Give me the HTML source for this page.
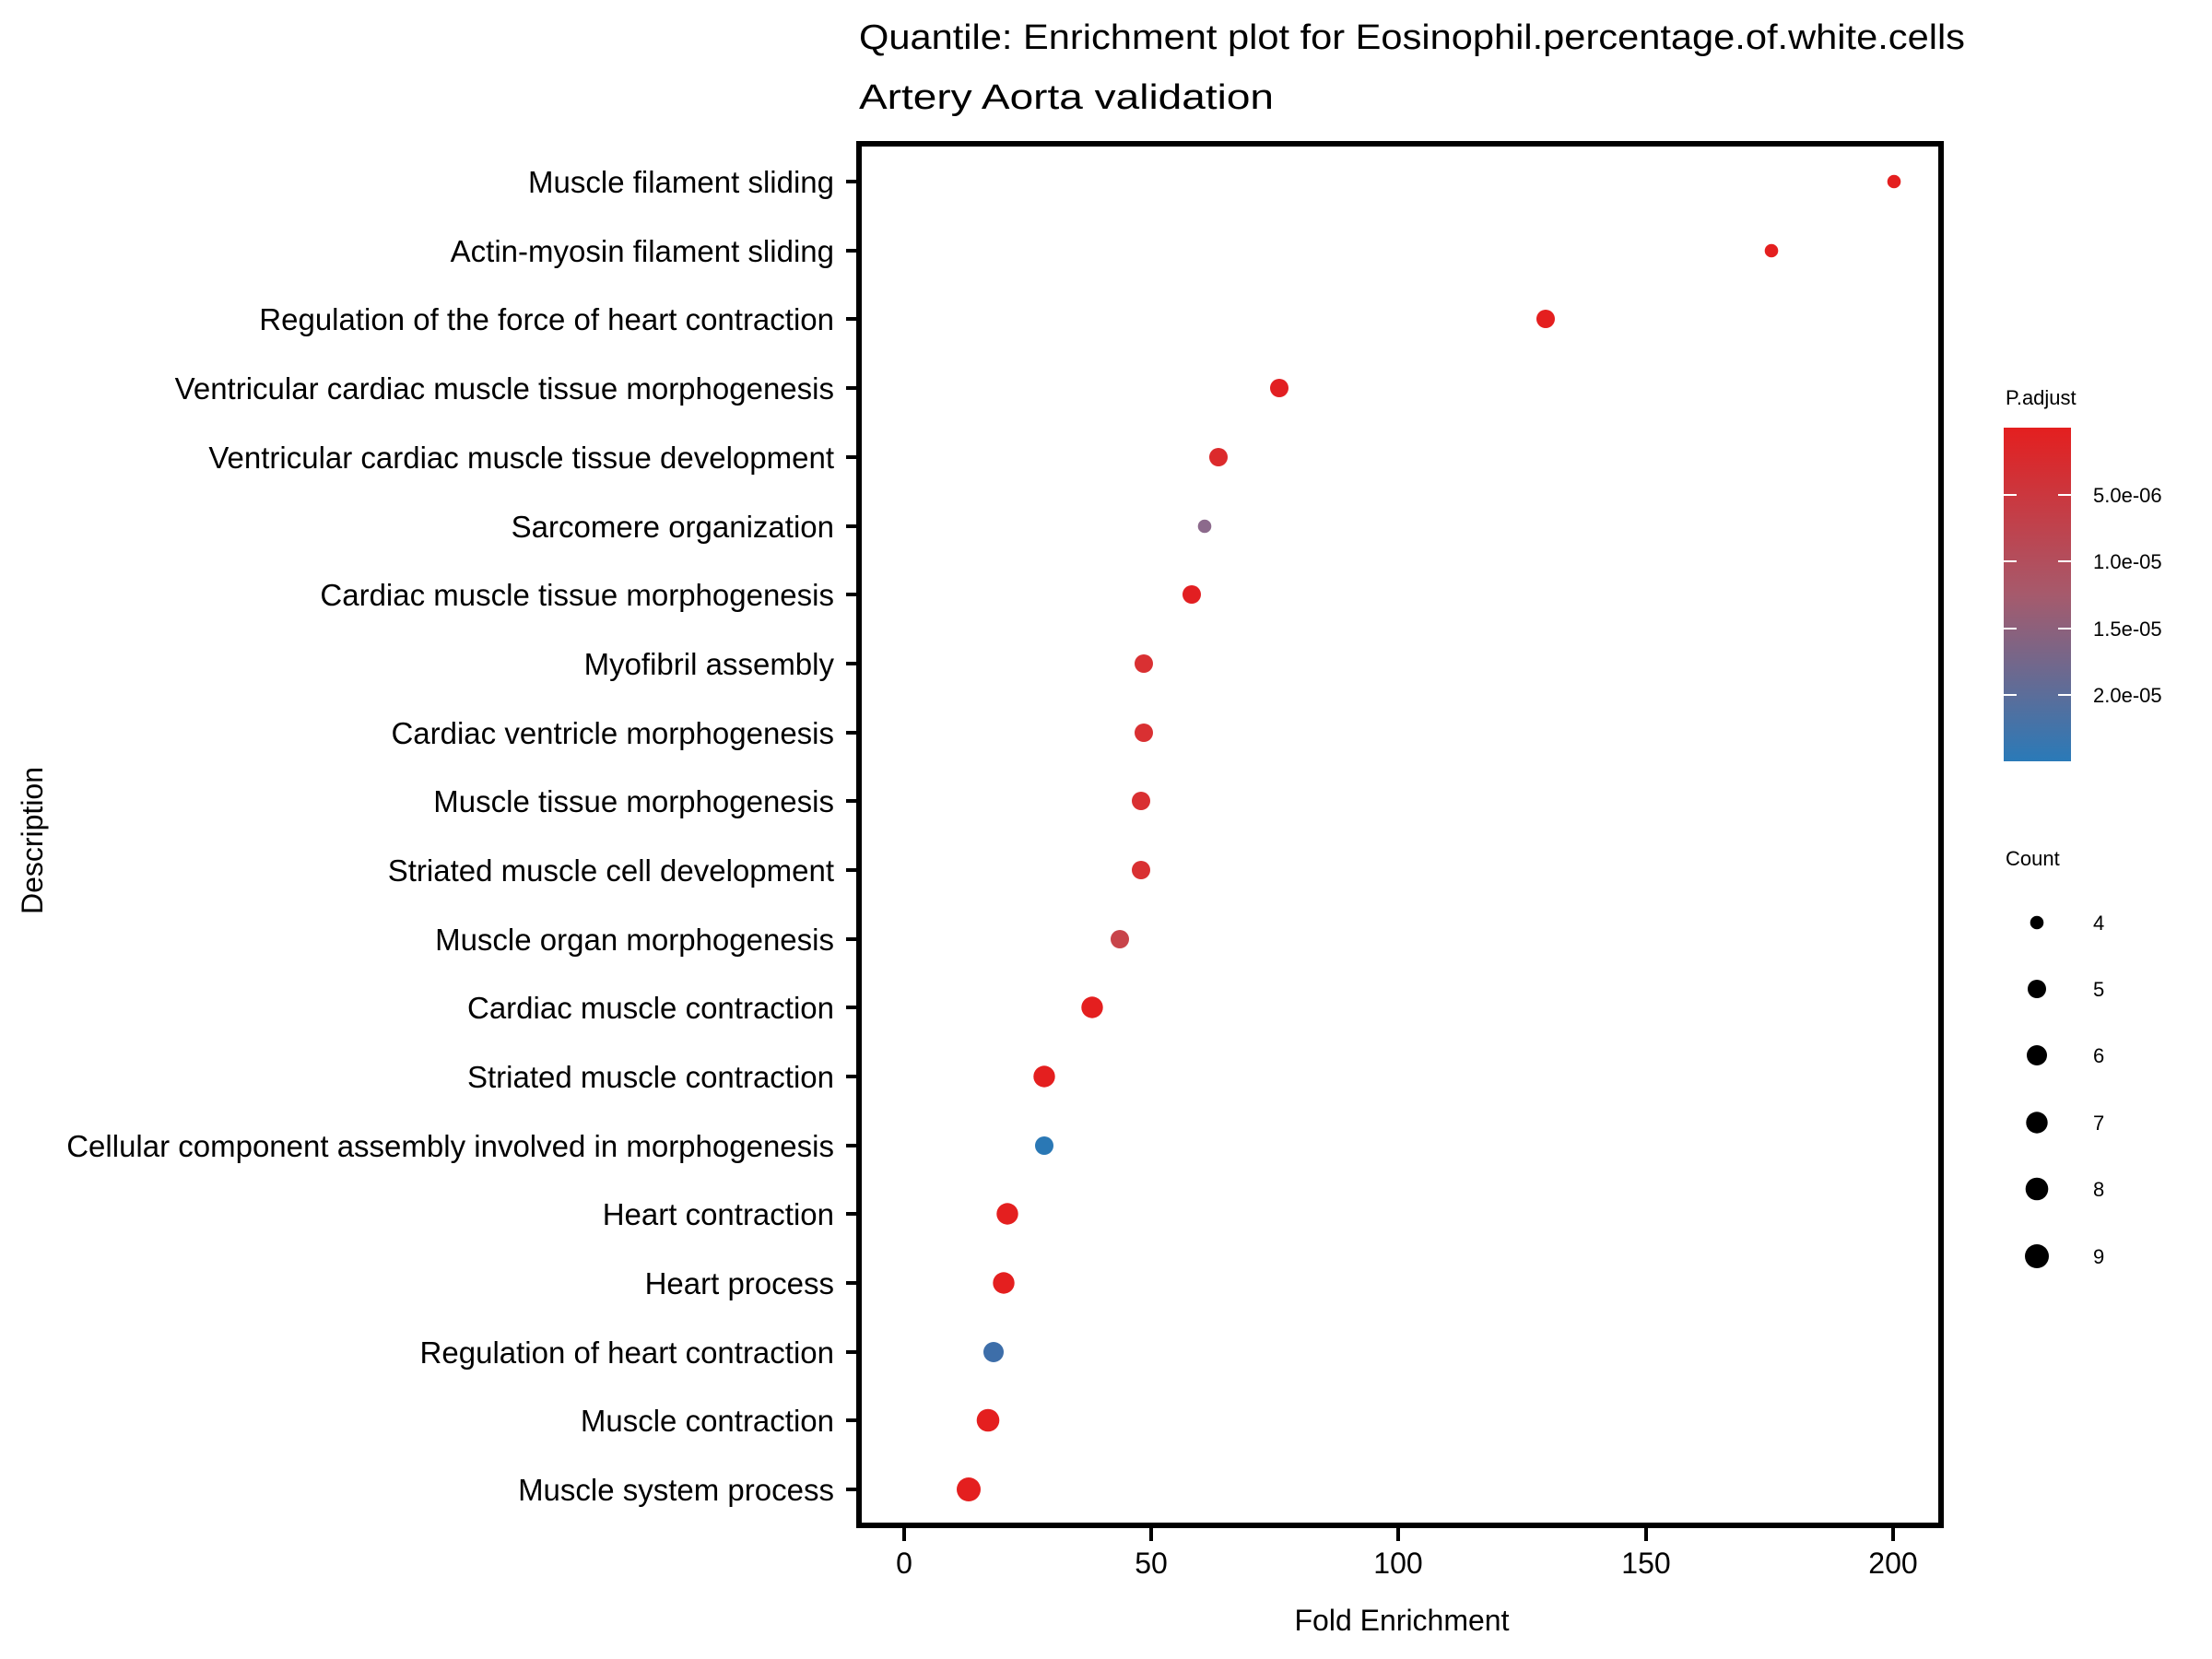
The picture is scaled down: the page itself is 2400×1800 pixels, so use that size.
<!DOCTYPE html>
<html><head><meta charset="utf-8"><style>body{margin:0;background:#fff}svg{display:block}text{font-family:"Liberation Sans",sans-serif;fill:#000}</style></head>
<body>
<svg width="2400" height="1800" viewBox="0 0 2400 1800" xmlns="http://www.w3.org/2000/svg">
<defs><linearGradient id="g" x1="0" y1="0" x2="0" y2="1"><stop offset="0" stop-color="#e41f1f"/><stop offset="0.5" stop-color="#a65a6c"/><stop offset="1" stop-color="#2a7ab8"/></linearGradient></defs>
<text x="932" y="53" font-size="38" textLength="1200" lengthAdjust="spacingAndGlyphs">Quantile: Enrichment plot for Eosinophil.percentage.of.white.cells</text>
<text x="932" y="118" font-size="38" textLength="450" lengthAdjust="spacingAndGlyphs">Artery Aorta validation</text>
<rect x="932" y="156" width="1174" height="1499" fill="none" stroke="#000" stroke-width="6"/>
<g font-size="33" text-anchor="end">
<text x="905" y="209">Muscle filament sliding</text>
<text x="905" y="284">Actin-myosin filament sliding</text>
<text x="905" y="358">Regulation of the force of heart contraction</text>
<text x="905" y="433">Ventricular cardiac muscle tissue morphogenesis</text>
<text x="905" y="508">Ventricular cardiac muscle tissue development</text>
<text x="905" y="583">Sarcomere organization</text>
<text x="905" y="657">Cardiac muscle tissue morphogenesis</text>
<text x="905" y="732">Myofibril assembly</text>
<text x="905" y="807">Cardiac ventricle morphogenesis</text>
<text x="905" y="881">Muscle tissue morphogenesis</text>
<text x="905" y="956">Striated muscle cell development</text>
<text x="905" y="1031">Muscle organ morphogenesis</text>
<text x="905" y="1105">Cardiac muscle contraction</text>
<text x="905" y="1180">Striated muscle contraction</text>
<text x="905" y="1255">Cellular component assembly involved in morphogenesis</text>
<text x="905" y="1329">Heart contraction</text>
<text x="905" y="1404">Heart process</text>
<text x="905" y="1479">Regulation of heart contraction</text>
<text x="905" y="1553">Muscle contraction</text>
<text x="905" y="1628">Muscle system process</text>
</g>
<g stroke="#000" stroke-width="4">
<path d="M918 197H930M918 272H930M918 346H930M918 421H930M918 496H930M918 571H930M918 645H930M918 720H930M918 795H930M918 869H930M918 944H930M918 1019H930M918 1093H930M918 1168H930M918 1243H930M918 1317H930M918 1392H930M918 1467H930M918 1541H930M918 1616H930"/>
<path d="M981 1658V1672M1249 1658V1672M1517 1658V1672M1786 1658V1672M2054 1658V1672"/>
</g>
<g font-size="32" text-anchor="middle">
<text x="981" y="1707">0</text><text x="1249" y="1707">50</text><text x="1517" y="1707">100</text><text x="1786" y="1707">150</text><text x="2054" y="1707">200</text>
<text x="1521" y="1769">Fold Enrichment</text>
<text transform="translate(46 912) rotate(-90)">Description</text>
</g>
<g>
<circle cx="2055" cy="197" r="7.3" fill="#e41f1f"/>
<circle cx="1922" cy="272" r="7.3" fill="#e41f1f"/>
<circle cx="1677" cy="346" r="10" fill="#e41f1f"/>
<circle cx="1388" cy="421" r="10" fill="#e21f22"/>
<circle cx="1322" cy="496" r="10" fill="#dc2a2c"/>
<circle cx="1307" cy="571" r="7.3" fill="#8c6a8c"/>
<circle cx="1293" cy="645" r="10" fill="#e21f22"/>
<circle cx="1241" cy="720" r="10" fill="#d93032"/>
<circle cx="1241" cy="795" r="10" fill="#d93032"/>
<circle cx="1238" cy="869" r="10" fill="#d93032"/>
<circle cx="1238" cy="944" r="10" fill="#d93032"/>
<circle cx="1215" cy="1019" r="10" fill="#c8444a"/>
<circle cx="1185" cy="1093" r="11.7" fill="#e41f1f"/>
<circle cx="1133" cy="1168" r="11.7" fill="#e41f1f"/>
<circle cx="1133" cy="1243" r="10" fill="#2a78b5"/>
<circle cx="1093" cy="1317" r="11.7" fill="#e41f1f"/>
<circle cx="1089" cy="1392" r="11.7" fill="#e41f1f"/>
<circle cx="1078" cy="1467" r="11" fill="#3d6ea9"/>
<circle cx="1072" cy="1541" r="12.3" fill="#e41f1f"/>
<circle cx="1051" cy="1616" r="13" fill="#e41f1f"/>
</g>
<text x="2176" y="439" font-size="22">P.adjust</text>
<rect x="2174" y="464" width="73" height="362" fill="url(#g)"/>
<g stroke="#fff" stroke-width="2"><path d="M2174 537h14M2233 537h14M2174 609h14M2233 609h14M2174 682h14M2233 682h14M2174 754h14M2233 754h14"/></g>
<g font-size="22"><text x="2271" y="545">5.0e-06</text><text x="2271" y="617">1.0e-05</text><text x="2271" y="690">1.5e-05</text><text x="2271" y="762">2.0e-05</text></g>
<text x="2176" y="939" font-size="22">Count</text>
<g fill="#000"><circle cx="2210" cy="1001" r="7.3"/><circle cx="2210" cy="1073" r="10"/><circle cx="2210" cy="1145" r="11"/><circle cx="2210" cy="1218" r="11.7"/><circle cx="2210" cy="1290" r="12.3"/><circle cx="2210" cy="1363" r="13"/></g>
<g font-size="22"><text x="2271" y="1009">4</text><text x="2271" y="1081">5</text><text x="2271" y="1153">6</text><text x="2271" y="1226">7</text><text x="2271" y="1298">8</text><text x="2271" y="1371">9</text></g>
</svg>
</body></html>
